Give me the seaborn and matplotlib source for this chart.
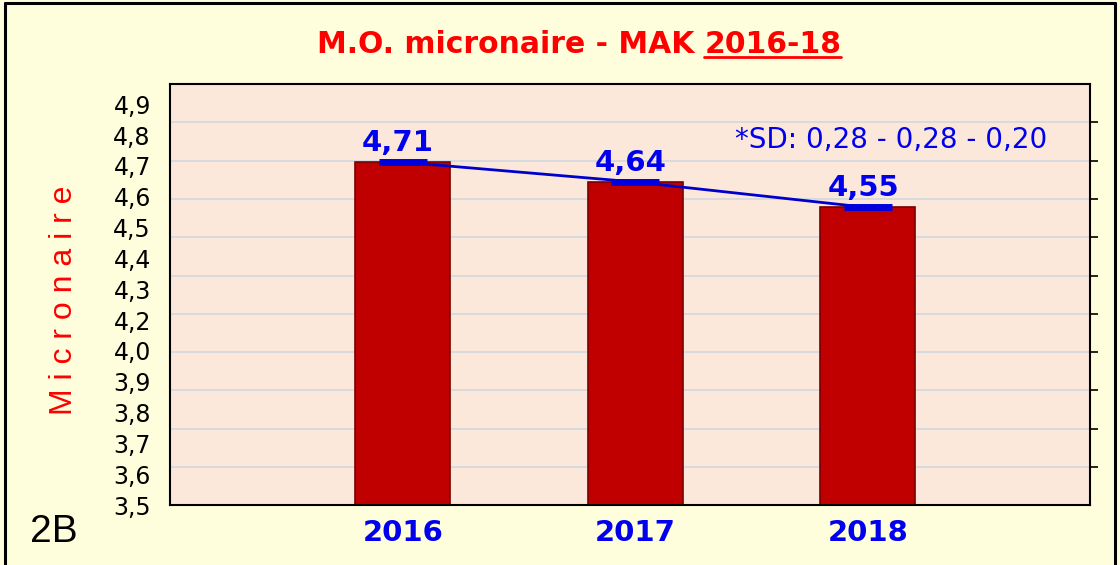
import numpy as np
import seaborn as sns
import matplotlib.pyplot as plt
from matplotlib.lines import Line2D

# data
years = ["2016", "2017", "2018"]
means = [4.71, 4.64, 4.55]
sd_text = "*SD: 0,28 - 0,28 - 0,20"
value_labels = ["4,71", "4,64", "4,55"]
ytick_labels = ["3,5", "3,6", "3,7", "3,8", "3,9", "4,0", "4,2",
                "4,3", "4,4", "4,5", "4,6", "4,7", "4,8", "4,9"]

sns.set_style("white")
plt.rcParams["font.family"] = ["DejaVu Sans"]
plt.rcParams["text.color"] = "black"

fig = plt.figure(figsize=(11.2, 5.65), dpi=100, facecolor="#FEFEDD")
ax = fig.add_axes([0.152, 0.106, 0.821, 0.745])
ax.set_facecolor("#FCE8DB")

sns.barplot(x=years, y=means, color="#C00000", edgecolor="#7A0000",
            linewidth=1.2, width=0.41, saturation=1, ax=ax)
ax.plot(np.arange(len(years)), means, color="#0000CC", lw=2, zorder=5)
ax.plot(np.arange(len(years)), means, ls="none", marker="_", ms=35, mew=5,
        color="#0000DD", zorder=6)

ax.set_ylim(3.5, 4.985)
ax.set_xlim(-1.0, 2.955)

# labels are spaced evenly, grid follows its own step as in the original
ax.set_yticks(np.linspace(3.5, 4.914, len(ytick_labels)), ytick_labels)
ax.set_yticks(3.5 + 0.135 * np.arange(1, 11), minor=True)
ax.grid(False)
ax.grid(True, which="minor", axis="y", color="#D5D9DE", lw=1.3)
ax.set_axisbelow(True)
ax.tick_params(axis="y", which="major", length=0, pad=14, labelsize=17,
               labelcolor="black")
ax.tick_params(axis="y", which="minor", left=False, right=True,
               direction="out", length=6, width=1.2, color="black")
ax.tick_params(axis="x", direction="in", length=6, width=1, color="black",
               labelsize=21, labelcolor="#0000EE", pad=10, bottom=True)
for lab in ax.get_xticklabels():
    lab.set_fontweight("bold")
ax.set_xlabel("")
ax.set_ylabel("")
for s in ax.spines.values():
    s.set_visible(True)
    s.set_color("black")
    s.set_linewidth(1.5)

for i, (m, t) in enumerate(zip(means, value_labels)):
    ax.text(i - 0.02, m + 0.018, t, ha="center", va="bottom", color="#0000EE",
            fontsize=21, fontweight="bold", zorder=7)

ax.text(2.10, 4.787, sd_text, ha="center", va="center", color="#0000EE",
        fontsize=20)

fig.text(0.057, 0.469, "M i c r o n a i r e", rotation=90, ha="center",
         va="center", color="#FF0000", fontsize=23,
         family=["Liberation Sans", "DejaVu Sans"])
fig.text(0.027, 0.058, "2B", fontsize=28, va="center", ha="left",
         color="black", family=["Liberation Sans", "DejaVu Sans"])

# title with underlined year range
t1 = fig.text(0.629, 0.906, "M.O. micronaire - MAK ", ha="right",
              va="baseline", color="#FF0000", fontsize=21.5, fontweight="bold")
t2 = fig.text(0.629, 0.906, "2016-18", ha="left", va="baseline",
              color="#FF0000", fontsize=21.5, fontweight="bold")
fig.canvas.draw()
bb = t2.get_window_extent().transformed(fig.transFigure.inverted())
uy = 0.906 - 4 / 565
fig.add_artist(Line2D([bb.x0, bb.x1], [uy, uy], color="#FF0000", lw=2,
                      transform=fig.transFigure))

# outer frame of the panel
fw, fh = 1120, 565
frame = dict(color="black", lw=2.2, transform=fig.transFigure)
fig.add_artist(Line2D([5 / fw, 5 / fw], [0, 1 - 3 / fh], **frame))
fig.add_artist(Line2D([5 / fw, 1 - 5 / fw], [1 - 3 / fh, 1 - 3 / fh], **frame))
fig.add_artist(Line2D([1 - 5 / fw, 1 - 5 / fw], [0, 1 - 3 / fh], **frame))

fig.savefig("out.png", dpi=100, facecolor=fig.get_facecolor())
